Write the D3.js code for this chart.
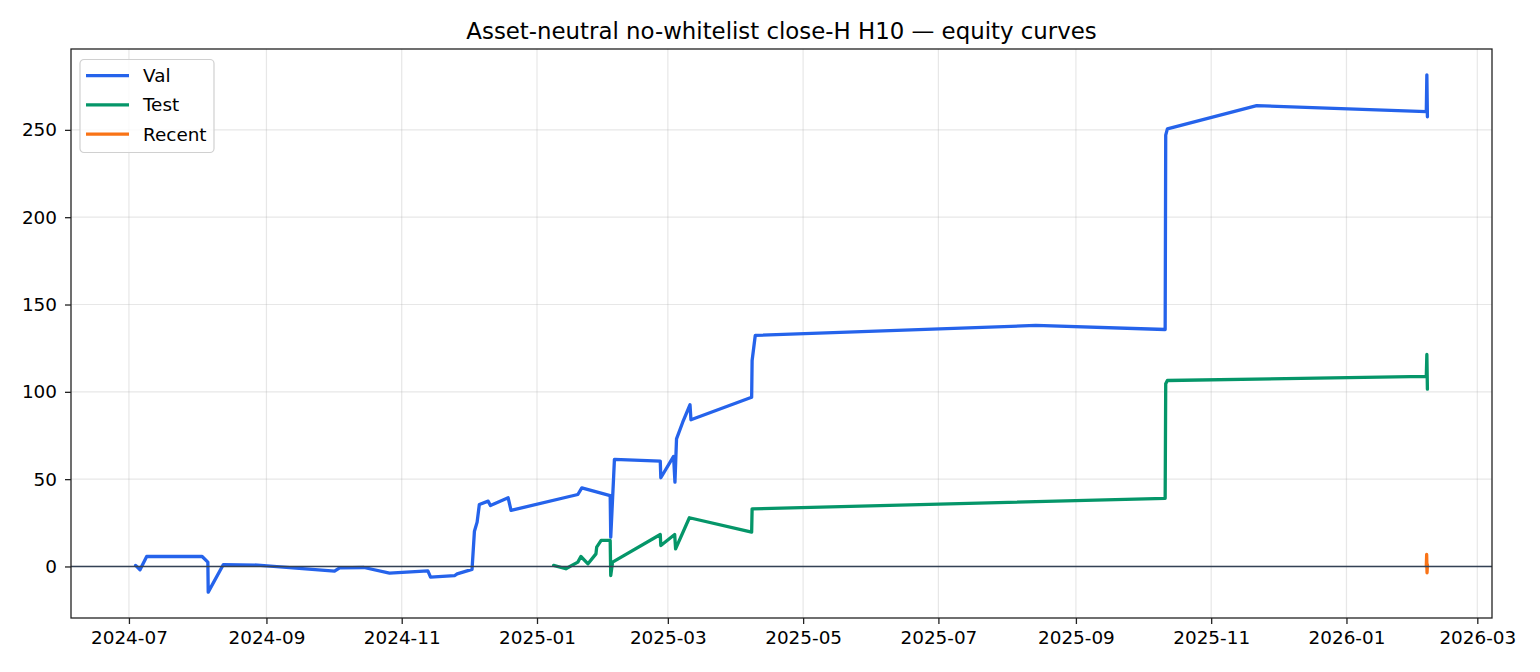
<!DOCTYPE html>
<html lang="en">
<head>
    <meta charset="UTF-8">
    <script src="https://cdn.jsdelivr.net/npm/d3@7/dist/d3.min.js"></script>
    <title>Equity curves</title>
    <style>
        body { margin: 0; background: #fff; }
        svg { display: block; font-family: "DejaVu Sans", sans-serif; }
    </style>
</head>
<body>
<svg id="chart" width="1540" height="672"></svg>

<script>
    // data (cumulative equity, timestamps to the hour)
    var seriesNames = ["Val", "Test", "Recent"];
    var seriesColors = ["#2563eb", "#059669", "#f97316"];

    var valDates = [
        "2024-07-04T00", "2024-07-06T00", "2024-07-09T00", "2024-08-03T00", "2024-08-05T14",
        "2024-08-05T18", "2024-08-12T14", "2024-08-28T00", "2024-10-01T17", "2024-10-04T00",
        "2024-10-15T00", "2024-10-26T12", "2024-11-12T19", "2024-11-14T00", "2024-11-24T19",
        "2024-11-26T00", "2024-12-02T17", "2024-12-03T19", "2024-12-05T00", "2024-12-06T00",
        "2024-12-10T00", "2024-12-11T00", "2024-12-19T00", "2024-12-20T07", "2025-01-19T10",
        "2025-01-21T05", "2025-02-03T00", "2025-02-03T06", "2025-02-04T14", "2025-02-04T22",
        "2025-02-25T14", "2025-02-25T20", "2025-03-03T14", "2025-03-04T05", "2025-03-04T22",
        "2025-03-07T17", "2025-03-11T00", "2025-03-11T10", "2025-04-07T19", "2025-04-08T00",
        "2025-04-09T10", "2025-08-13T22", "2025-10-11T06", "2025-10-11T12", "2025-10-12T06",
        "2025-11-21T12", "2026-02-06T00", "2026-02-06T06", "2026-02-06T12"
    ];
    var valValues = [
        0.6, -1.9, 5.7, 5.7, 2.5,
        -14.7, 1.1, 0.8, -2.7, -0.8,
        -0.6, -3.8, -2.5, -6.1, -5.3,
        -4.2, -1.7, 20.2, 25.4, 35.5,
        37.4, 34.9, 39.3, 32.1, 41.2,
        45.0, 40.6, 16.8, 52.1, 61.3,
        60.3, 50.8, 63.0, 48.3, 73.1,
        82.6, 92.6, 84.0, 96.9, 117.9,
        132.3, 138.0, 135.7, 247.0, 250.6,
        263.9, 260.5, 281.5, 257.5
    ];

    var testDates = [
        "2025-01-08T12", "2025-01-14T00", "2025-01-19T10", "2025-01-20T19", "2025-01-24T00",
        "2025-01-27T14", "2025-01-27T22", "2025-01-29T22", "2025-02-03T00", "2025-02-03T06",
        "2025-02-04T02", "2025-02-25T14", "2025-02-25T20", "2025-03-04T02", "2025-03-04T12",
        "2025-03-10T17", "2025-04-07T19", "2025-04-08T00", "2025-10-11T06", "2025-10-11T12",
        "2025-10-12T06", "2026-02-06T00", "2026-02-06T06", "2026-02-06T12"
    ];
    var testValues = [
        0.6, -1.3, 2.5, 5.7, 1.5,
        7.2, 11.1, 14.9, 14.9, -5.2,
        2.5, 18.3, 12.0, 18.3, 10.1,
        27.9, 19.7, 33.0, 39.0, 104.6,
        106.5, 108.8, 121.4, 101.5
    ];

    var recentDates = ["2026-02-06T00", "2026-02-06T04", "2026-02-06T08", "2026-02-06T12"];
    var recentValues = [0.0, 6.9, -3.6, 1.0];

    var title = "Asset-neutral no-whitelist close-H H10 \u2014 equity curves";

    var parse = d3.timeParse("%Y-%m-%dT%H");
    function zipSeries(dates, values) {
        return dates.map(function(d, i) { return { date: parse(d), value: values[i] }; });
    }
    var series = [
        zipSeries(valDates, valValues),
        zipSeries(testDates, testValues),
        zipSeries(recentDates, recentValues)
    ];

    var W = 1540, H = 672;
    var margin = { left: 71, right: 48, top: 49, bottom: 54 };
    var plotW = W - margin.left - margin.right;
    var plotH = H - margin.top - margin.bottom;
    var fontSize = 18.4;
    var lineW = 3.3;

    var svg = d3.select("#chart");

    // matplotlib-style 5% padding around the data
    var allPts = d3.merge(series);
    var tExt = d3.extent(allPts, function(p) { return +p.date; });
    var vExt = d3.extent(allPts, function(p) { return p.value; });
    var tPad = (tExt[1] - tExt[0]) * 0.05;
    var vPad = (vExt[1] - vExt[0]) * 0.05;

    var x = d3.scaleTime()
            .domain([new Date(tExt[0] - tPad), new Date(tExt[1] + tPad)])
            .range([0, plotW]);
    var y = d3.scaleLinear()
            .domain([vExt[0] - vPad, vExt[1] + vPad])
            .range([plotH, 0]);

    var xTicks = x.ticks(d3.timeMonth.every(2));
    var yTicks = y.ticks(6);

    var g = svg.append("g").attr("transform", "translate(" + margin.left + "," + margin.top + ")");

    svg.append("defs").append("clipPath").attr("id", "clip")
            .append("rect").attr("width", plotW).attr("height", plotH);

    // grid
    g.append("g").selectAll("line").data(xTicks).enter().append("line")
            .attr("x1", function(d) { return x(d); })
            .attr("x2", function(d) { return x(d); })
            .attr("y1", 0).attr("y2", plotH)
            .attr("stroke", "#b0b0b0").attr("stroke-opacity", 0.3).attr("stroke-width", 1.2);
    g.append("g").selectAll("line").data(yTicks).enter().append("line")
            .attr("y1", function(d) { return y(d); })
            .attr("y2", function(d) { return y(d); })
            .attr("x1", 0).attr("x2", plotW)
            .attr("stroke", "#b0b0b0").attr("stroke-opacity", 0.3).attr("stroke-width", 1.2);

    // curves
    var line = d3.line()
            .x(function(d) { return x(d.date); })
            .y(function(d) { return y(d.value); });

    g.append("g").attr("clip-path", "url(#clip)")
            .selectAll("path").data(series).enter().append("path")
            .attr("d", line)
            .attr("fill", "none")
            .attr("stroke", function(d, i) { return seriesColors[i]; })
            .attr("stroke-width", lineW)
            .attr("stroke-linejoin", "round")
            .attr("stroke-linecap", "round");

    // zero line
    g.append("line")
            .attr("x1", 0).attr("x2", plotW)
            .attr("y1", y(0)).attr("y2", y(0))
            .attr("stroke", "#334155").attr("stroke-width", 1.5);

    // axes
    var xAxis = d3.axisBottom(x).tickValues(xTicks).tickFormat(d3.timeFormat("%Y-%m"))
            .tickSizeOuter(0).tickSize(6).tickPadding(7);
    var yAxis = d3.axisLeft(y).tickValues(yTicks).tickFormat(d3.format("d"))
            .tickSizeOuter(0).tickSize(6).tickPadding(8);

    var gx = g.append("g").attr("transform", "translate(0," + plotH + ")").call(xAxis);
    var gy = g.append("g").call(yAxis);
    [gx, gy].forEach(function(a) {
        a.select(".domain").remove();
        a.selectAll(".tick line").attr("stroke", "#222").attr("stroke-width", 1.3);
        a.selectAll(".tick text").attr("fill", "#000").style("font-size", fontSize + "px")
                .style("font-family", "'DejaVu Sans', sans-serif");
    });

    // frame
    g.append("rect").attr("width", plotW).attr("height", plotH)
            .attr("fill", "none").attr("stroke", "#222").attr("stroke-width", 1.3);

    // title
    svg.append("text")
            .attr("x", margin.left + plotW / 2).attr("y", 39)
            .attr("text-anchor", "middle")
            .style("font-size", "22.85px")
            .attr("fill", "#000")
            .text(title);

    // legend
    var leg = g.append("g").attr("transform", "translate(9,10.5)");
    leg.append("rect")
            .attr("width", 134).attr("height", 93).attr("rx", 4)
            .attr("fill", "#fff").attr("fill-opacity", 0.8)
            .attr("stroke", "#d0d0d0").attr("stroke-width", 1.2);
    var items = leg.selectAll("g.item").data(seriesNames).enter().append("g")
            .attr("class", "item")
            .attr("transform", function(d, i) { return "translate(0," + (16.2 + i * 29.2) + ")"; });
    items.append("line")
            .attr("x1", 6).attr("x2", 49)
            .attr("stroke", function(d, i) { return seriesColors[i]; })
            .attr("stroke-width", lineW);
    items.append("text")
            .attr("x", 63).attr("dy", "0.35em")
            .style("font-size", fontSize + "px")
            .attr("fill", "#000")
            .text(function(d) { return d; });
</script>
</body>
</html>
